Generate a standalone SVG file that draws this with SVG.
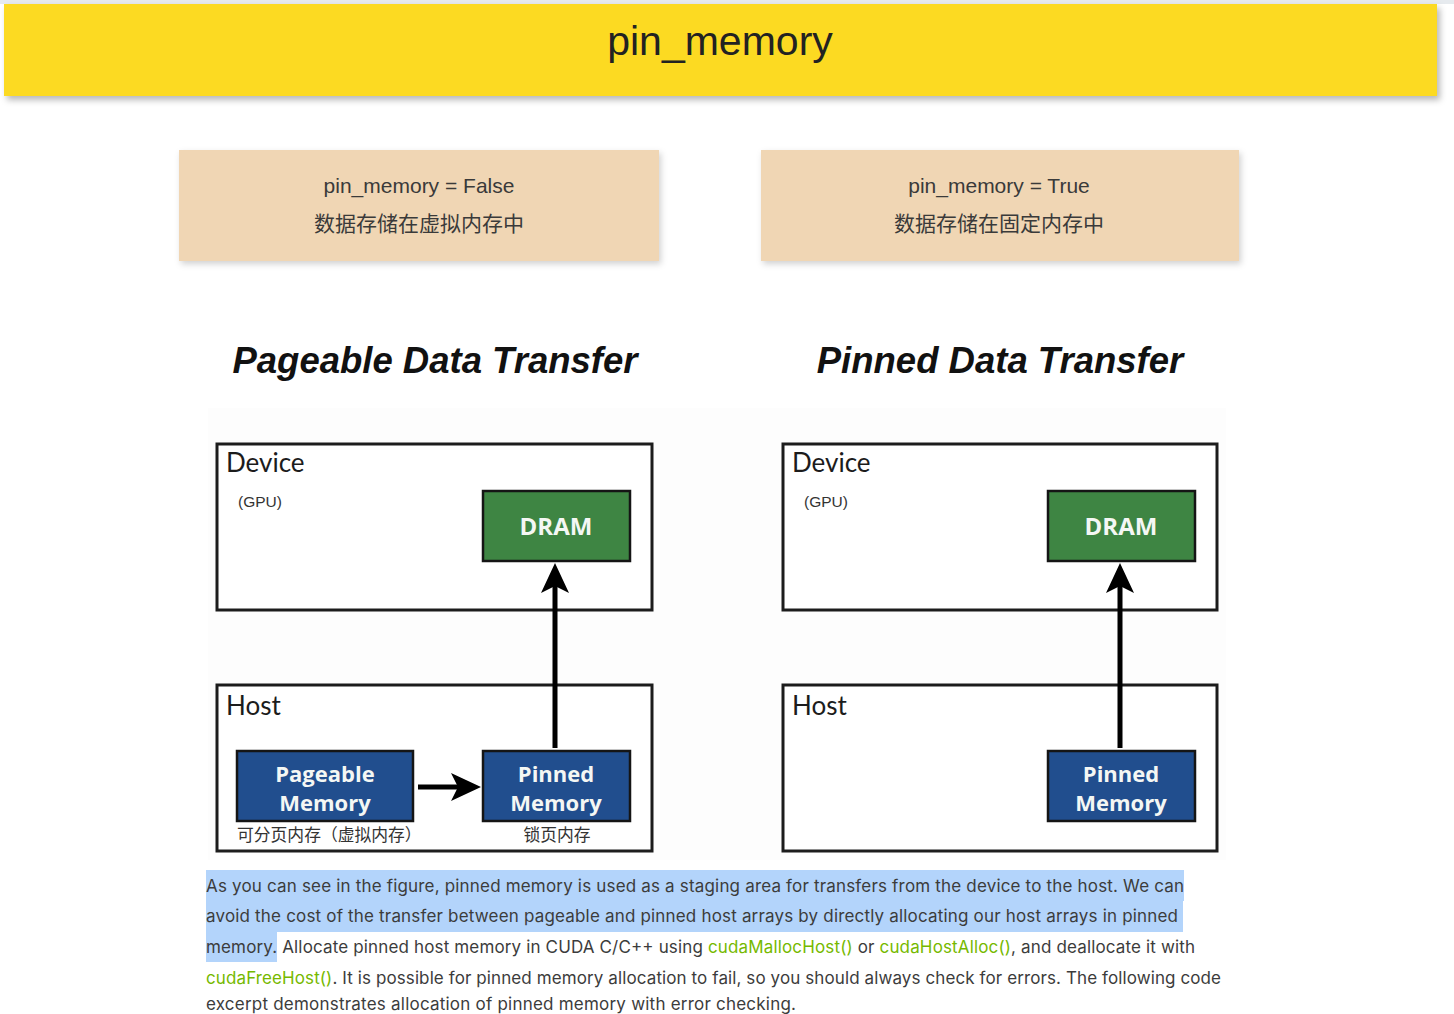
<svg xmlns="http://www.w3.org/2000/svg" width="1454" height="1014" viewBox="0 0 1454 1014">
  <style>
    .cfg { font-family: "Liberation Sans", "Noto Sans CJK SC", sans-serif; font-size: 21px; fill: #3a3a3a; text-anchor: middle; }
    .cjk { font-family: "Noto Sans CJK SC", sans-serif; }
    .heading { font-family: "Liberation Sans", Arial, sans-serif; font-weight: bold; font-style: italic; font-size: 36.5px; fill: #111; text-anchor: middle; }
    .frame { fill: #ffffff; stroke: #1c1c1c; stroke-width: 3; }
    .frameLabel { font-family: Lato, "Open Sans", sans-serif; font-size: 26px; fill: #1c1c1c; }
    .gpu { font-family: "Liberation Sans", Arial, sans-serif; font-size: 15.5px; fill: #333; }
    .dram { fill: #3e8543; stroke: #151515; stroke-width: 2.5; }
    .mem { fill: #214e8e; stroke: #151515; stroke-width: 2.5; }
    .boxText { font-family: "Open Sans", Lato, sans-serif; font-weight: bold; font-size: 22px; fill: #f4f7f4; text-anchor: middle; }
    .big { font-size: 24px; }
    .sub { font-family: "Noto Sans CJK SC", sans-serif; font-size: 16.8px; fill: #333; }
    .conn { stroke: #000; stroke-width: 5; fill: none; marker-end: url(#head); }
    .para { font-family: Inter, "Noto Sans", sans-serif; font-size: 17px; fill: #3c3c3c; }
    .green { fill: #76b900; }
    .hl { fill: #b3d4fb; }
  </style>
  <defs>
    <marker id="head" markerUnits="userSpaceOnUse" viewBox="0 0 30 28" refX="23" refY="14" markerWidth="30" markerHeight="28" orient="auto">
      <path d="M0,0 L30,14 L0,28 L7,14 Z" fill="#000"/>
    </marker>
    <filter id="shadow" x="-5%" y="-20%" width="110%" height="150%">
      <feDropShadow dx="3" dy="4" stdDeviation="3" flood-color="#000" flood-opacity="0.28"/>
    </filter>
    <filter id="softShadow" x="-5%" y="-20%" width="110%" height="150%">
      <feDropShadow dx="2" dy="3" stdDeviation="3" flood-color="#000" flood-opacity="0.18"/>
    </filter>
  </defs>

  <rect x="0" y="0" width="1454" height="1014" fill="#ffffff"/>
  <rect x="0" y="0" width="1454" height="4" fill="#e6eaee"/>

  <!-- Title banner -->
  <g id="title">
    <rect x="4" y="4" width="1433" height="92" fill="#fcda24" filter="url(#shadow)"/>
    <text x="720" y="55" font-family="'Liberation Sans', Arial, sans-serif" font-size="41" fill="#222" text-anchor="middle">pin_memory</text>
  </g>

  <!-- Config boxes -->
  <g id="cfg-false">
    <rect x="179" y="150" width="480" height="111" fill="#f0d6b4" filter="url(#softShadow)"/>
    <text class="cfg" x="419" y="193">pin_memory = False</text>
    <text class="cfg cjk" x="419" y="231">数据存储在虚拟内存中</text>
  </g>
  <g id="cfg-true">
    <rect x="761" y="150" width="478" height="111" fill="#f0d6b4" filter="url(#softShadow)"/>
    <text class="cfg" x="999" y="193">pin_memory = True</text>
    <text class="cfg cjk" x="999" y="231">数据存储在固定内存中</text>
  </g>

  <!-- faint figure background -->
  <rect x="208" y="408" width="1018" height="452" fill="#fdfdfd"/>

  <!-- Headings -->
  <g id="heading-pageable">
    <text class="heading" x="435" y="373">Pageable Data Transfer</text>
  </g>
  <g id="heading-pinned">
    <text class="heading" x="1000" y="373">Pinned Data Transfer</text>
  </g>

  <!-- Left diagram -->
  <g id="left-device">
    <rect class="frame" x="217" y="444" width="435" height="166"/>
    <text class="frameLabel" x="226" y="472">Device</text>
    <text class="gpu" x="238" y="507">(GPU)</text>
  </g>
  <g id="left-host">
    <rect class="frame" x="217" y="685" width="435" height="166"/>
    <text class="frameLabel" x="226" y="715">Host</text>
  </g>
  <g id="left-dram">
    <rect class="dram" x="483" y="491" width="147" height="70"/>
    <text class="boxText big" x="556" y="535">DRAM</text>
  </g>
  <g id="left-pageable">
    <rect class="mem" x="237" y="751" width="176" height="70"/>
    <text class="boxText" x="325" y="782">Pageable</text>
    <text class="boxText" x="325" y="811">Memory</text>
    <text class="sub" x="237" y="841">可分页内存（虚拟内存）</text>
  </g>
  <g id="left-pinned">
    <rect class="mem" x="483" y="751" width="147" height="70"/>
    <text class="boxText" x="556" y="782">Pinned</text>
    <text class="boxText" x="556" y="811">Memory</text>
    <text class="sub" x="557" y="841" text-anchor="middle">锁页内存</text>
  </g>

  <!-- Right diagram -->
  <g id="right-device">
    <rect class="frame" x="783" y="444" width="434" height="166"/>
    <text class="frameLabel" x="792" y="472">Device</text>
    <text class="gpu" x="804" y="507">(GPU)</text>
  </g>
  <g id="right-host">
    <rect class="frame" x="783" y="685" width="434" height="166"/>
    <text class="frameLabel" x="792" y="715">Host</text>
  </g>
  <g id="right-dram">
    <rect class="dram" x="1048" y="491" width="147" height="70"/>
    <text class="boxText big" x="1121" y="535">DRAM</text>
  </g>
  <g id="right-pinned">
    <rect class="mem" x="1048" y="751" width="147" height="70"/>
    <text class="boxText" x="1121" y="782">Pinned</text>
    <text class="boxText" x="1121" y="811">Memory</text>
  </g>

  <!-- Connectors -->
  <g id="connectors">
    <line class="conn" x1="555" y1="748" x2="555" y2="570"/>
    <line class="conn" x1="418" y1="787" x2="474" y2="787"/>
    <line class="conn" x1="1120" y1="748" x2="1120" y2="570"/>
  </g>

  <!-- Paragraph -->
  <g id="paragraph">
    <rect class="hl" x="206" y="870" width="978" height="31"/>
    <rect class="hl" x="206" y="901" width="977" height="31"/>
    <rect class="hl" x="206" y="932" width="71" height="30"/>
    <text class="para" x="206" y="892" textLength="978" lengthAdjust="spacing">As you can see in the figure, pinned memory is used as a staging area for transfers from the device to the host. We can</text>
    <text class="para" x="206" y="922" textLength="972" lengthAdjust="spacing">avoid the cost of the transfer between pageable and pinned host arrays by directly allocating our host arrays in pinned</text>
    <text class="para" x="206" y="953" textLength="989" lengthAdjust="spacing">memory. Allocate pinned host memory in CUDA C/C++ using <tspan class="green">cudaMallocHost()</tspan> or <tspan class="green">cudaHostAlloc()</tspan>, and deallocate it with</text>
    <text class="para" x="206" y="984" textLength="1015" lengthAdjust="spacing"><tspan class="green">cudaFreeHost()</tspan>. It is possible for pinned memory allocation to fail, so you should always check for errors. The following code</text>
    <text class="para" x="206" y="1010" textLength="590" lengthAdjust="spacing">excerpt demonstrates allocation of pinned memory with error checking.</text>
  </g>
</svg>
